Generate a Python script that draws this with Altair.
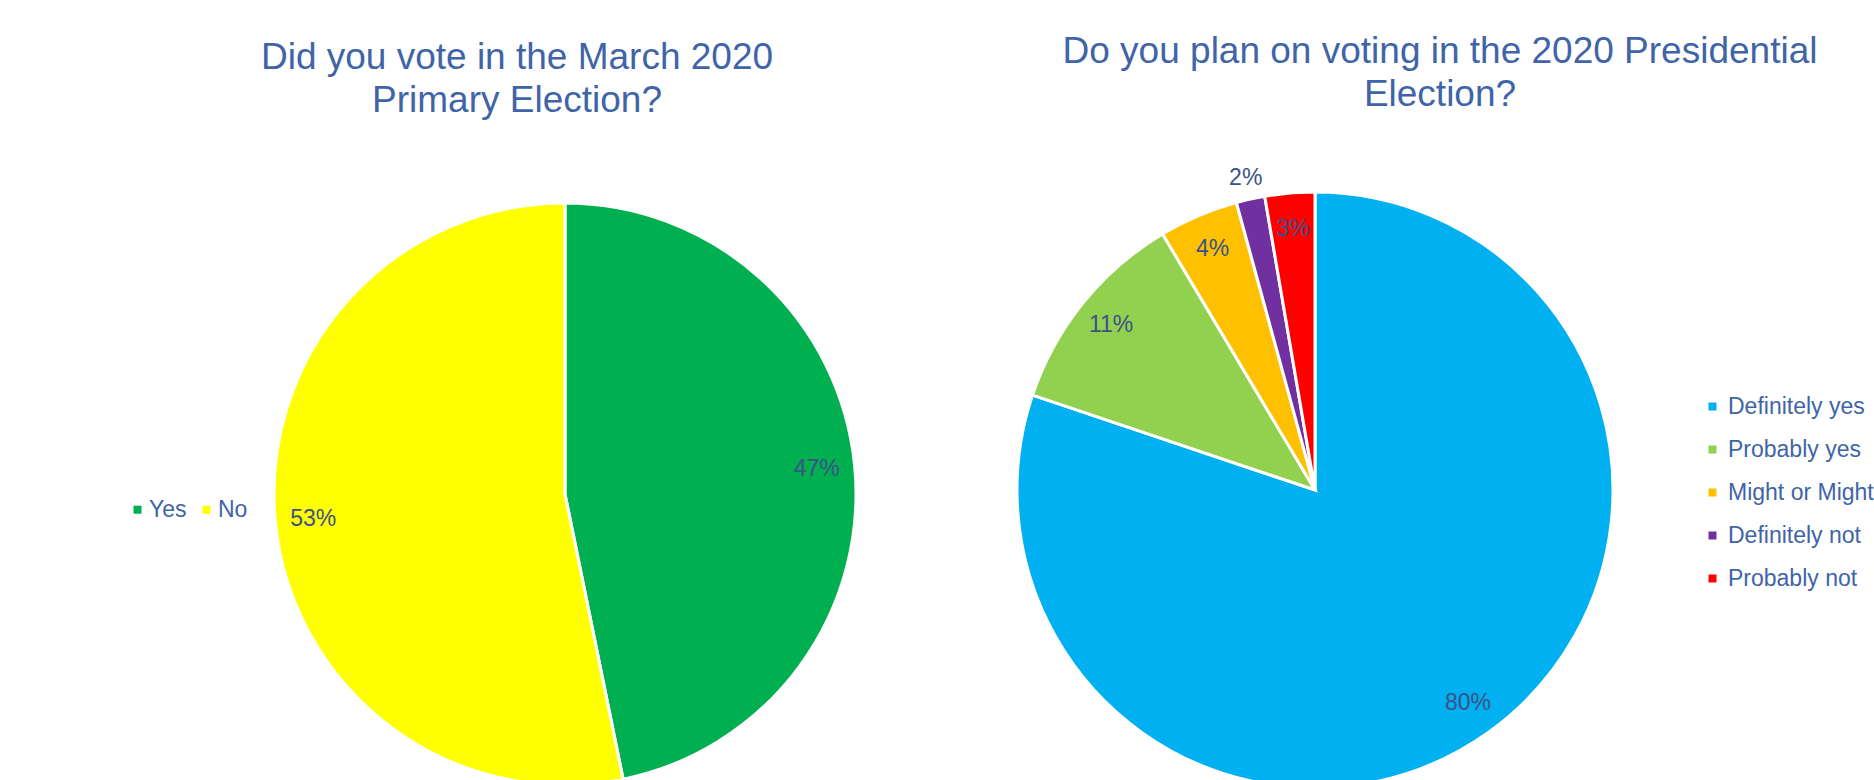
import altair as alt
import pandas as pd

# ---- data ----
q1_title = ["Did you vote in the March 2020", "Primary Election?"]
q1_cats = ["Yes", "No"]
q1_vals = [0.468, 0.532]
q1_colors = ["#00B050", "#FFFF00"]

q2_title = ["Do you plan on voting in the 2020 Presidential", "Election?"]
q2_cats = ["Definitely yes", "Probably yes", "Might or Might not", "Definitely not", "Probably not"]
q2_vals = [0.802, 0.113, 0.043, 0.0155, 0.027]
q2_colors = ["#00B0F0", "#92D050", "#FFC000", "#7030A0", "#FF0000"]

FONT = "Liberation Sans"
TITLE_COLOR = "#3F64A8"
LABEL_COLOR = "#3B5287"

df1 = pd.DataFrame({"cat": q1_cats, "val": q1_vals, "idx": list(range(len(q1_cats)))})
df2 = pd.DataFrame({"cat": q2_cats, "val": q2_vals, "idx": list(range(len(q2_cats)))})


def pie(df, cats, colors, cx, cy, r, legend):
    base = alt.Chart(df).encode(
        theta=alt.Theta("val:Q", stack=True),
        order=alt.Order("idx:O"),
        x=alt.value(cx),
        y=alt.value(cy),
    )
    arc = base.mark_arc(radius=r, stroke="white", strokeWidth=3).encode(
        color=alt.Color("cat:N", scale=alt.Scale(domain=cats, range=colors), legend=legend)
    )
    return base, arc


leg1 = alt.Legend(
    orient="none", legendX=126, legendY=498, direction="horizontal", title=None,
    symbolType="square", symbolSize=64, symbolStrokeWidth=0, symbolOpacity=1,
    labelFontSize=23, labelFont=FONT, labelColor=TITLE_COLOR, labelOffset=0,
    columnPadding=8, padding=0,
)
leg2 = alt.Legend(
    orient="none", legendX=1701, legendY=395, direction="vertical", title=None,
    symbolType="square", symbolSize=64, symbolStrokeWidth=0, symbolOpacity=1,
    labelFontSize=23, labelFont=FONT, labelColor=TITLE_COLOR, labelOffset=4,
    rowPadding=19, padding=0, labelLimit=400,
)

base1, arc1 = pie(df1, q1_cats, q1_colors, 565, 494, 291, leg1)
text1 = base1.mark_text(radius=253, fontSize=23, font=FONT, color=LABEL_COLOR).encode(
    text="lab:N"
).transform_calculate(lab="format(datum.val, '.0%')")
left = alt.layer(arc1, text1)

base2, arc2 = pie(df2, q2_cats, q2_colors, 1315, 490, 298, leg2)
text2_in = base2.mark_text(radius=262, fontSize=23, font=FONT, color=LABEL_COLOR).encode(
    text="lab:N"
).transform_calculate(lab="datum.val < 0.02 ? '' : format(datum.val, '.0%')")
text2_out = base2.mark_text(radius=320, fontSize=23, font=FONT, color=LABEL_COLOR).encode(
    text="lab:N"
).transform_calculate(lab="datum.val < 0.02 ? format(datum.val, '.0%') : ''")
right = alt.layer(arc2, text2_in, text2_out)

tdf = pd.DataFrame({"t": ["\n".join(q1_title), "\n".join(q2_title)], "k": [0, 1]})
title1 = alt.Chart(tdf).transform_filter("datum.k == 0").mark_text(
    fontSize=37, font=FONT, color=TITLE_COLOR, align="center", baseline="alphabetic",
    lineBreak="\n", lineHeight=43,
).encode(text="t:N", x=alt.value(517), y=alt.value(69))
title2 = alt.Chart(tdf).transform_filter("datum.k == 1").mark_text(
    fontSize=37, font=FONT, color=TITLE_COLOR, align="center", baseline="alphabetic",
    lineBreak="\n", lineHeight=43,
).encode(text="t:N", x=alt.value(1440), y=alt.value(63))

chart = alt.layer(left, right, title1, title2).resolve_scale(
    theta="independent", color="independent"
).properties(
    width=1874, height=780, padding=0, autosize="none", background="white"
).configure_view(stroke=None)

chart.save("out.html", embed_options={"renderer": "svg", "actions": False})
